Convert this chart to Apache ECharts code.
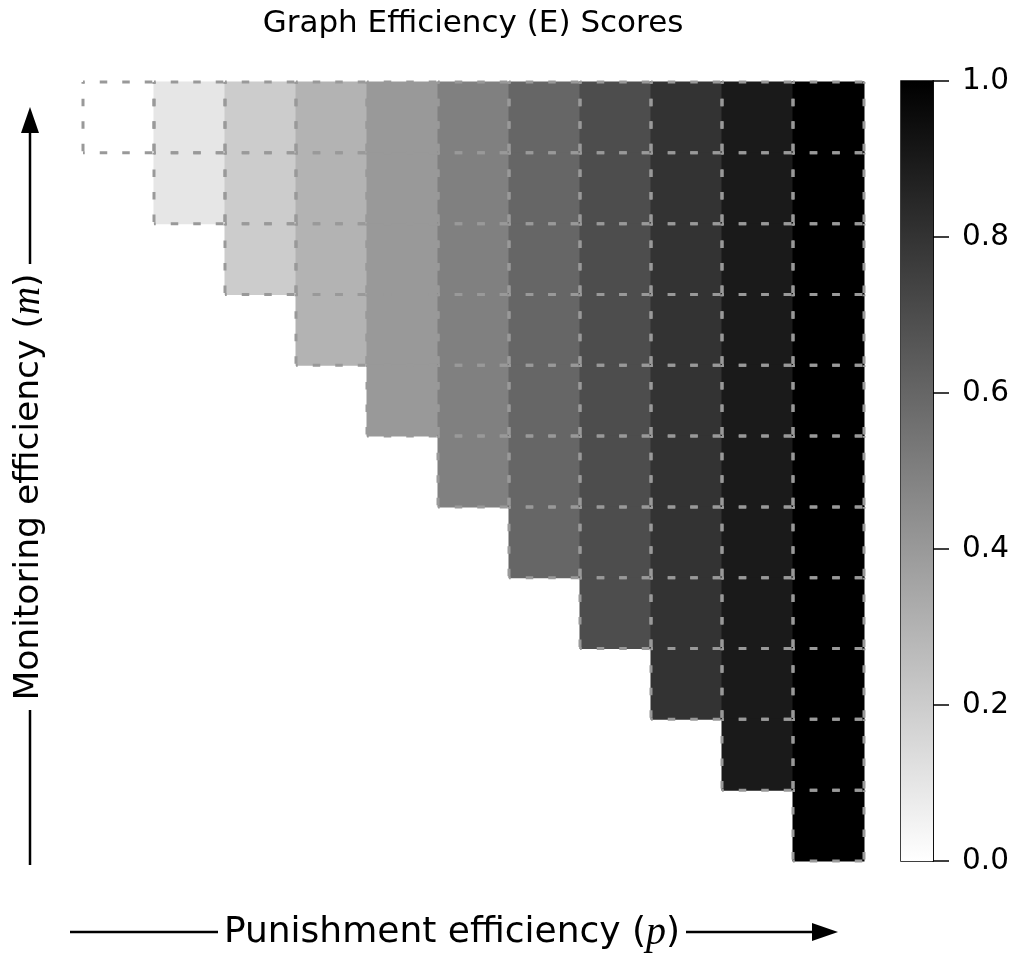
<!DOCTYPE html>
<html>
<head>
<meta charset="utf-8">
<script src="https://cdn.jsdelivr.net/npm/echarts@6/dist/echarts.min.js"></script>
<style>html,body{margin:0;padding:0;background:#fff}#main{width:1012px;height:954px}</style>
</head>
<body>
<div id="main"></div>
<script>
// Punishment efficiency (columns) and monitoring efficiency (rows, top to bottom)
const pCategories = ['p0','p1','p2','p3','p4','p5','p6','p7','p8','p9','p10'];
const mCategories = ['m10','m9','m8','m7','m6','m5','m4','m3','m2','m1','m0'];
// E scores per row (top row first); null = no cell
const eRow0  = [0.0, 0.1, 0.2, 0.3, 0.4, 0.5, 0.6, 0.7, 0.8, 0.9, 1.0];
const eRow1  = [null, 0.1, 0.2, 0.3, 0.4, 0.5, 0.6, 0.7, 0.8, 0.9, 1.0];
const eRow2  = [null, null, 0.2, 0.3, 0.4, 0.5, 0.6, 0.7, 0.8, 0.9, 1.0];
const eRow3  = [null, null, null, 0.3, 0.4, 0.5, 0.6, 0.7, 0.8, 0.9, 1.0];
const eRow4  = [null, null, null, null, 0.4, 0.5, 0.6, 0.7, 0.8, 0.9, 1.0];
const eRow5  = [null, null, null, null, null, 0.5, 0.6, 0.7, 0.8, 0.9, 1.0];
const eRow6  = [null, null, null, null, null, null, 0.6, 0.7, 0.8, 0.9, 1.0];
const eRow7  = [null, null, null, null, null, null, null, 0.7, 0.8, 0.9, 1.0];
const eRow8  = [null, null, null, null, null, null, null, null, 0.8, 0.9, 1.0];
const eRow9  = [null, null, null, null, null, null, null, null, null, 0.9, 1.0];
const eRow10 = [null, null, null, null, null, null, null, null, null, null, 1.0];
const colorbarTicks = [0.0, 0.2, 0.4, 0.6, 0.8, 1.0];

const rows = [eRow0,eRow1,eRow2,eRow3,eRow4,eRow5,eRow6,eRow7,eRow8,eRow9,eRow10];
const heatData = [];
rows.forEach((r, i) => r.forEach((v, j) => { if (v !== null) heatData.push([j, i, v]); }));

const chart = echarts.init(document.getElementById('main'));
const FONT = 'DejaVu Sans';
const edgeStyle = {stroke: '#999999', lineWidth: 3, lineDash: [7.5, 15], lineDashOffset: 5.75};
chart.setOption({
  animation: false,
  backgroundColor: '#fff',
  title: {
    text: 'Graph Efficiency (E) Scores',
    left: 473, top: 8, padding: 0, textAlign: 'center',
    textStyle: {fontFamily: FONT, fontSize: 31, fontWeight: 'normal', color: '#000'}
  },
  grid: [
    {left: 83, top: 82, width: 781, height: 779},
    {left: 901, top: 81, width: 32, height: 780, show: true, borderColor: '#000', borderWidth: 1.5, backgroundColor: 'transparent'}
  ],
  xAxis: [
    {type: 'category', data: pCategories, gridIndex: 0, show: false},
    {type: 'category', data: ['cb'], gridIndex: 1, show: false}
  ],
  yAxis: [
    {type: 'category', data: mCategories, gridIndex: 0, inverse: true, show: false},
    {type: 'value', gridIndex: 1, min: 0, max: 1, interval: 0.2, position: 'right',
     axisLine: {show: true, lineStyle: {color: '#000', width: 1.5}},
     axisTick: {show: true, length: 16, inside: false, lineStyle: {color: '#000', width: 1.5}},
     splitLine: {show: false},
     axisLabel: {margin: 29, fontFamily: FONT, fontSize: 29.5, color: '#000', formatter: v => v.toFixed(1)}}
  ],
  visualMap: {
    type: 'continuous', min: 0, max: 1, show: false, seriesIndex: 0, dimension: 2,
    inRange: {color: ['#ffffff', '#000000']}
  },
  series: [
    {
      type: 'custom', xAxisIndex: 0, yAxisIndex: 0, data: heatData,
      encode: {x: 0, y: 1},
      renderItem: function (params, api) {
        const c = api.coord([api.value(0), api.value(1)]);
        const s = api.size([1, 1]);
        const x0 = c[0] - s[0] / 2, y0 = c[1] - s[1] / 2, x1 = x0 + s[0], y1 = y0 + s[1];
        return {
          type: 'group',
          children: [
            {type: 'rect', z2: 0, shape: {x: x0 - 0.5, y: y0 - 0.5, width: s[0] + 1, height: s[1] + 1},
             style: {fill: api.visual('color'), stroke: null}},
            {type: 'line', z2: 10, shape: {x1: x0, y1: y0, x2: x1, y2: y0}, style: edgeStyle},
            {type: 'line', z2: 10, shape: {x1: x0, y1: y1, x2: x1, y2: y1}, style: edgeStyle},
            {type: 'line', z2: 10, shape: {x1: x0, y1: y0, x2: x0, y2: y1}, style: edgeStyle},
            {type: 'line', z2: 10, shape: {x1: x1, y1: y0, x2: x1, y2: y1}, style: edgeStyle}
          ]
        };
      },
      silent: true
    },
    {
      type: 'bar', xAxisIndex: 1, yAxisIndex: 1, data: [1], barWidth: '100%', silent: true,
      itemStyle: {color: new echarts.graphic.LinearGradient(0, 0, 0, 1, [
        {offset: 0, color: '#000000'}, {offset: 1, color: '#ffffff'}])}
    }
  ],
  graphic: [
    // y-axis label with arrow
    {type: 'line', shape: {x1: 30, y1: 865, x2: 30, y2: 710}, style: {stroke: '#000', lineWidth: 2.5}},
    {type: 'text', x: 29, y: 487, rotation: Math.PI / 2,
     style: {text: 'Monitoring efficiency ({i|m})', fontFamily: FONT, fontSize: 34.5, fill: '#000',
             align: 'center', verticalAlign: 'middle',
             rich: {i: {fontFamily: 'Liberation Serif', fontStyle: 'italic', fontSize: 39, fill: '#000'}}}},
    {type: 'line', shape: {x1: 30, y1: 264, x2: 30, y2: 128}, style: {stroke: '#000', lineWidth: 2.5}},
    {type: 'polygon', shape: {points: [[30, 107], [21, 133], [39, 133]]}, style: {fill: '#000'}},
    // x-axis label with arrow
    {type: 'line', shape: {x1: 70, y1: 932, x2: 218, y2: 932}, style: {stroke: '#000', lineWidth: 2.5}},
    {type: 'text', x: 452, y: 933,
     style: {text: 'Punishment efficiency ({i|p})', fontFamily: FONT, fontSize: 36, fill: '#000',
             align: 'center', verticalAlign: 'middle',
             rich: {i: {fontFamily: 'Liberation Serif', fontStyle: 'italic', fontSize: 40, fill: '#000'}}}},
    {type: 'line', shape: {x1: 686, y1: 932, x2: 815, y2: 932}, style: {stroke: '#000', lineWidth: 2.5}},
    {type: 'polygon', shape: {points: [[838, 932], [812, 923], [812, 941]]}, style: {fill: '#000'}}
  ]
});
</script>
</body>
</html>
